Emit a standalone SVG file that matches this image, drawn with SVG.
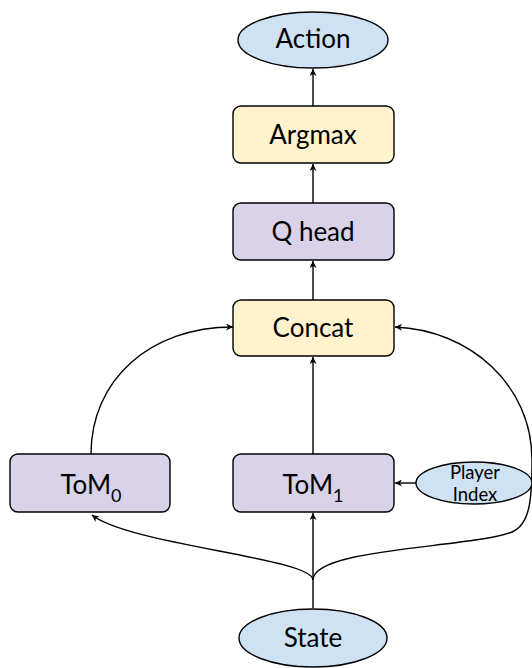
<svg xmlns="http://www.w3.org/2000/svg" width="532" height="668" viewBox="0 0 532 668">
<style>
.lbl{font-family:Lato,"Liberation Sans",sans-serif;font-size:26px;fill:#000;text-anchor:middle}
.sm{font-family:Lato,"Liberation Sans",sans-serif;font-size:18.5px;fill:#000;text-anchor:middle}
.blue{fill:#cfe2f3;stroke:#000;stroke-width:1.4}
.yel{fill:#fff2cc;stroke:#000;stroke-width:1.4}
.pur{fill:#d9d2e9;stroke:#000;stroke-width:1.4}
.e{fill:none;stroke:#000;stroke-width:1.4;marker-end:url(#ah)}
</style>
<defs>
<marker id="ah" viewBox="0 0 10 10" refX="10" refY="5" markerWidth="7" markerHeight="7" orient="auto" markerUnits="userSpaceOnUse">
<path d="M0,0 L10,5 L0,10 L3,5 Z" fill="#000"/>
</marker>
</defs>
<g id="connectors">
<path class="e" d="M313,106 L313,69"/>
<path class="e" d="M313,203 L313,164"/>
<path class="e" d="M313,300 L313,261"/>
<path class="e" d="M313,454 L313,357"/>
<path class="e" d="M91,454 C91,380 150,327 233,327"/>
<path class="e" d="M313,580 C313,548 470,548 512,532 C530,524 532,500 532,460 C532,385 470,330 395,327"/>
<path class="e" d="M416,483 L395,483"/>
<path class="e" d="M313,608 L313,513"/>
<path class="e" d="M313,580 C313,558 130,545 92,515"/>
</g>
<g id="action">
<ellipse class="blue" cx="313" cy="40" rx="75" ry="28"/>
<text class="lbl" x="313" y="48">Action</text>
</g>
<g id="argmax">
<rect class="yel" x="233" y="106" width="161" height="57" rx="8"/>
<text class="lbl" x="313" y="144">Argmax</text>
</g>
<g id="qhead">
<rect class="pur" x="233" y="203" width="161" height="57" rx="8"/>
<text class="lbl" x="313" y="241">Q head</text>
</g>
<g id="concat">
<rect class="yel" x="233" y="300" width="161" height="56" rx="8"/>
<text class="lbl" x="313" y="337">Concat</text>
</g>
<g id="tom0">
<rect class="pur" x="10" y="454" width="160" height="58" rx="8"/>
<text class="lbl" x="91" y="494">ToM<tspan font-size="18" dy="8">0</tspan></text>
</g>
<g id="tom1">
<rect class="pur" x="233" y="454" width="161" height="58" rx="8"/>
<text class="lbl" x="313" y="494">ToM<tspan font-size="18" dy="8">1</tspan></text>
</g>
<g id="player">
<ellipse class="blue" cx="474" cy="483" rx="58" ry="21"/>
<text class="sm" x="475" y="479">Player</text>
<text class="sm" x="475" y="501">Index</text>
</g>
<g id="state">
<ellipse class="blue" cx="313" cy="638" rx="74" ry="29"/>
<text class="lbl" x="313" y="647">State</text>
</g>
</svg>
